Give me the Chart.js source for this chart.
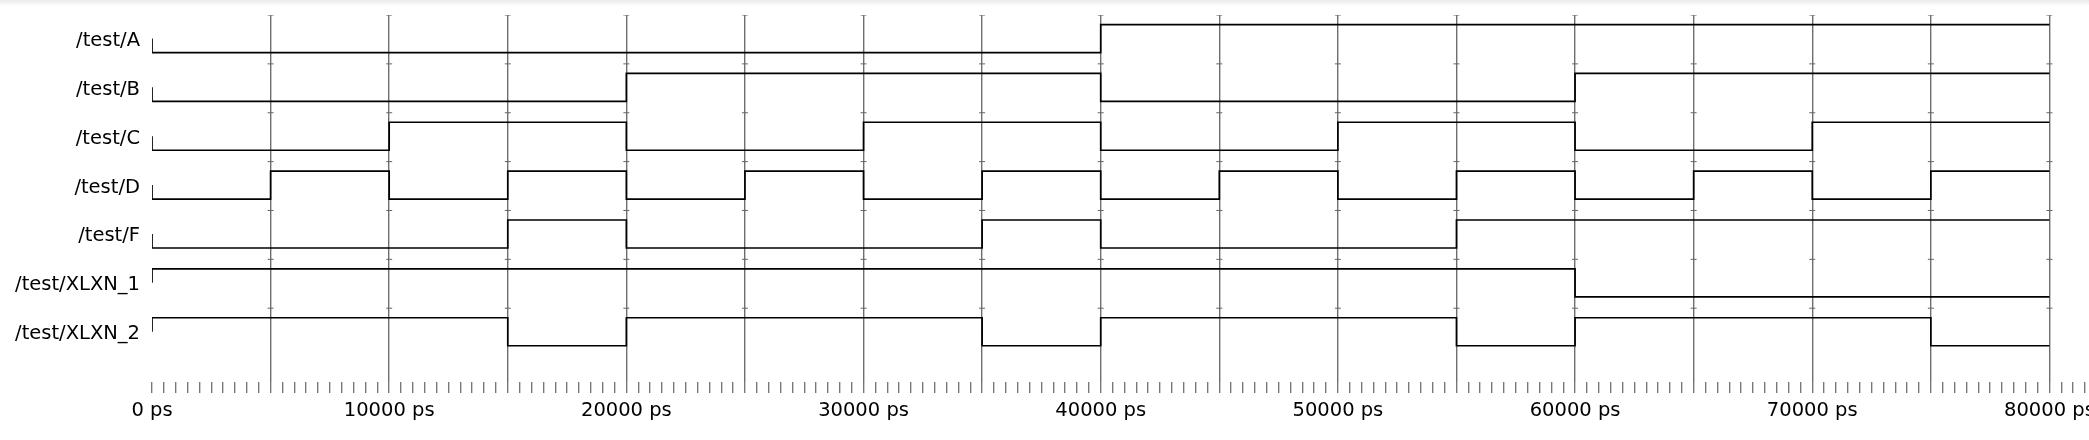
<!DOCTYPE html>
<html>
<head>
<meta charset="utf-8">
<script src="https://cdn.jsdelivr.net/npm/chart.js@4"></script>
<style>
  body { margin: 0; background: linear-gradient(#e9e9e9, #ffffff 6px); }
  .chart__container { width: 2089px; height: 440px; position: relative; }
</style>
</head>
<body>
<div class="chart__container"><canvas id="waveChart"></canvas></div>
<script>
// signal names, top to bottom
const signals = ['/test/A', '/test/B', '/test/C', '/test/D', '/test/F', '/test/XLXN_1', '/test/XLXN_2'];

// [time in ps, level] for every change of each signal
const sigA = [[0, 0], [40000, 1]];
const sigB = [[0, 0], [20000, 1], [40000, 0], [60000, 1]];
const sigC = [[0, 0], [10000, 1], [20000, 0], [30000, 1], [40000, 0], [50000, 1], [60000, 0], [70000, 1]];
const sigD = [[0, 0], [5000, 1], [10000, 0], [15000, 1], [20000, 0], [25000, 1], [30000, 0], [35000, 1],
              [40000, 0], [45000, 1], [50000, 0], [55000, 1], [60000, 0], [65000, 1], [70000, 0], [75000, 1]];
const sigF = [[0, 0], [15000, 1], [20000, 0], [35000, 1], [40000, 0], [55000, 1]];
const sigXLXN1 = [[0, 1], [60000, 0]];
const sigXLXN2 = [[0, 1], [15000, 0], [20000, 1], [35000, 0], [40000, 1], [55000, 0], [60000, 1], [75000, 0]];
const waves = [sigA, sigB, sigC, sigD, sigF, sigXLXN1, sigXLXN2];

const endTime = 80000;   // ps
const gridStep = 5000;   // grid lines
const labelStep = 10000; // labelled ticks
const minorStep = 500;   // small ticks

// where a level sits inside its row (row = 1 unit)
const HIGH = 0.195, LOW = 0.768, MID = 0.48, LABEL = 0.53;

function traceData(wave, row) {
  let pts = [{ x: 0, y: row + MID }];
  wave.forEach(function (c) {
    pts.push({ x: c[0], y: row + (c[1] ? HIGH : LOW) });
  });
  pts.push({ x: endTime, y: row + (wave[wave.length - 1][1] ? HIGH : LOW) });
  return pts;
}

// little cross marks on the grid lines at each row border
let crosses = [];
for (let t = gridStep; t <= endTime; t += gridStep) {
  for (let r = 0; r < signals.length; r++) crosses.push({ x: t, y: r });
}

let datasets = waves.map(function (w, i) {
  return {
    data: traceData(w, i),
    stepped: true,
    borderColor: '#000',
    borderWidth: 1.7,
    pointRadius: 0,
    fill: false,
  };
});
datasets.push({
  type: 'scatter',
  data: crosses,
  pointStyle: 'line',
  pointRadius: 3,
  borderColor: '#666',
  borderWidth: 1,
});

Chart.defaults.font.family = '"DejaVu Sans", Verdana, sans-serif';
Chart.defaults.font.size = 19.5;
Chart.defaults.color = '#000';

// no extra room for labels that stick out
function noPad(s) {
  s.paddingTop = 0;
  s.paddingBottom = 0;
  s.paddingLeft = 0;
  s.paddingRight = 0;
}

const ctx = document.getElementById('waveChart').getContext('2d');
new Chart(ctx, {
  type: 'line',
  data: { datasets: datasets },
  options: {
    responsive: true,
    maintainAspectRatio: false,
    animation: false,
    layout: { autoPadding: false, padding: { top: 15, right: 4, left: 0, bottom: 0 } },
    plugins: { legend: { display: false }, tooltip: { enabled: false } },
    scales: {
      x: {
        type: 'linear',
        min: 0,
        max: 81500,
        border: { display: false },
        grid: {
          lineWidth: 1.4,
          tickLength: 11,
          color: function (c) {
            const v = c.tick ? c.tick.value : 0;
            return (v > 0 && v <= endTime && v % gridStep === 0) ? '#6e6e6e' : 'rgba(0,0,0,0)';
          },
          tickColor: '#707070',
          tickWidth: 1.3,
        },
        ticks: {
          stepSize: minorStep,
          autoSkip: false,
          maxRotation: 0,
          minRotation: 0,
          includeBounds: false,
          padding: 6,
          callback: function (v) {
            return v % labelStep === 0 ? v + ' ps' : '';
          },
        },
        afterFit: function (s) { s.height = 58; noPad(s); },
      },
      y: {
        type: 'linear',
        reverse: true,
        min: 0,
        max: 7.51,
        border: { display: false },
        grid: { display: false, drawTicks: false },
        afterBuildTicks: function (s) {
          s.ticks = signals.map(function (n, i) { return { value: i + LABEL }; });
        },
        ticks: {
          padding: 12,
          callback: function (v, i) { return signals[i]; },
        },
        afterFit: function (s) { s.width = 152; noPad(s); },
      },
    },
  },
});
</script>
</body>
</html>
